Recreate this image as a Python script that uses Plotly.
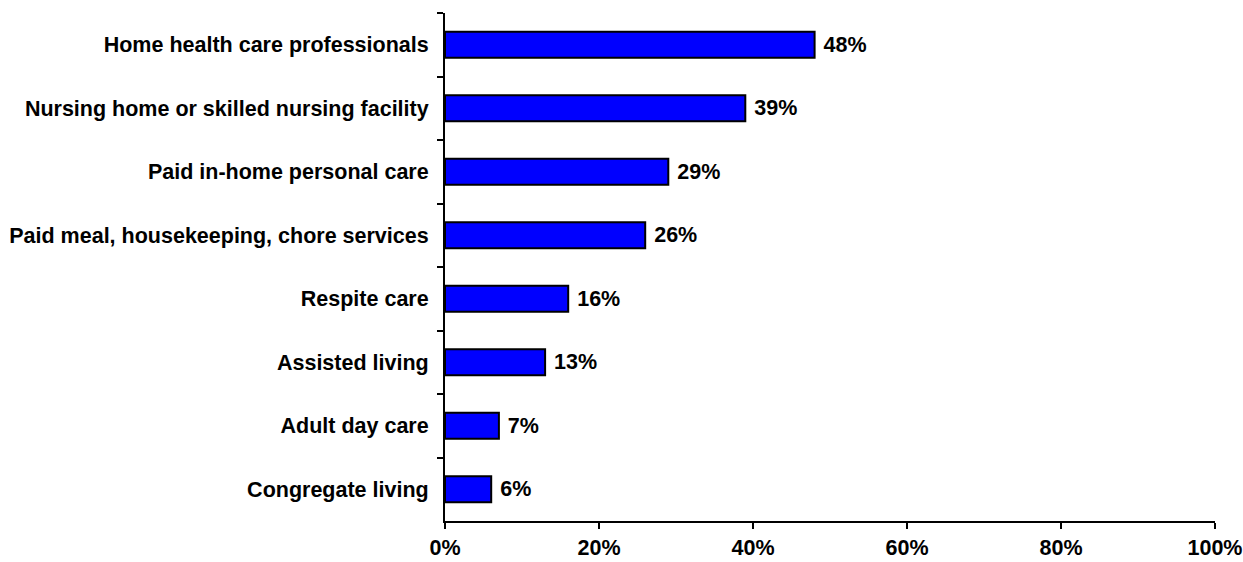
import plotly.graph_objects as go

categories = [
    "Home health care professionals",
    "Nursing home or skilled nursing facility",
    "Paid in-home personal care",
    "Paid meal, housekeeping, chore services",
    "Respite care",
    "Assisted living",
    "Adult day care",
    "Congregate living",
]
values = [48, 39, 29, 26, 16, 13, 7, 6]
x_ticks = [0, 20, 40, 60, 80, 100]

FONT = "Liberation Sans, Arial, sans-serif"
FS = 21.5

fig = go.Figure(
    go.Bar(
        x=values,
        y=categories,
        orientation="h",
        width=0.41,
        marker=dict(color="#0000FF", line=dict(color="#000000", width=2)),
        text=[f"\u00a0{v}%" for v in values],
        textposition="outside",
        textfont=dict(family=FONT, size=FS, color="#000000", weight="bold"),
        cliponaxis=False,
    )
)

fig.update_layout(
    width=1243,
    height=562,
    margin=dict(l=445, r=28, t=13, b=41, autoexpand=False),
    paper_bgcolor="white",
    plot_bgcolor="white",
    showlegend=False,
    font=dict(family=FONT, size=FS, color="#000000"),
)

fig.update_xaxes(
    range=[0, 100],
    tickvals=x_ticks,
    ticktext=[f"{t}%" for t in x_ticks],
    showgrid=False,
    zeroline=False,
    showline=True,
    linecolor="#000000",
    linewidth=2,
    ticks="outside",
    ticklen=6,
    tickwidth=2,
    tickcolor="#000000",
    automargin=False,
    tickfont=dict(family=FONT, size=FS, color="#000000", weight="bold"),
)

fig.update_yaxes(
    type="category",
    categoryorder="array",
    categoryarray=categories,
    range=[len(categories) - 0.5, -0.5],
    showgrid=False,
    zeroline=False,
    showline=True,
    linecolor="#000000",
    linewidth=2,
    ticks="outside",
    tickson="boundaries",
    ticklen=6,
    tickwidth=2,
    tickcolor="#000000",
    ticklabelstandoff=10,
    automargin=False,
    tickfont=dict(family=FONT, size=FS, color="#000000", weight="bold"),
)

fig.write_html(
    "out.html",
    config={"displayModeBar": False},
    post_script="document.body.style.margin='0';document.body.style.padding='0';",
)
